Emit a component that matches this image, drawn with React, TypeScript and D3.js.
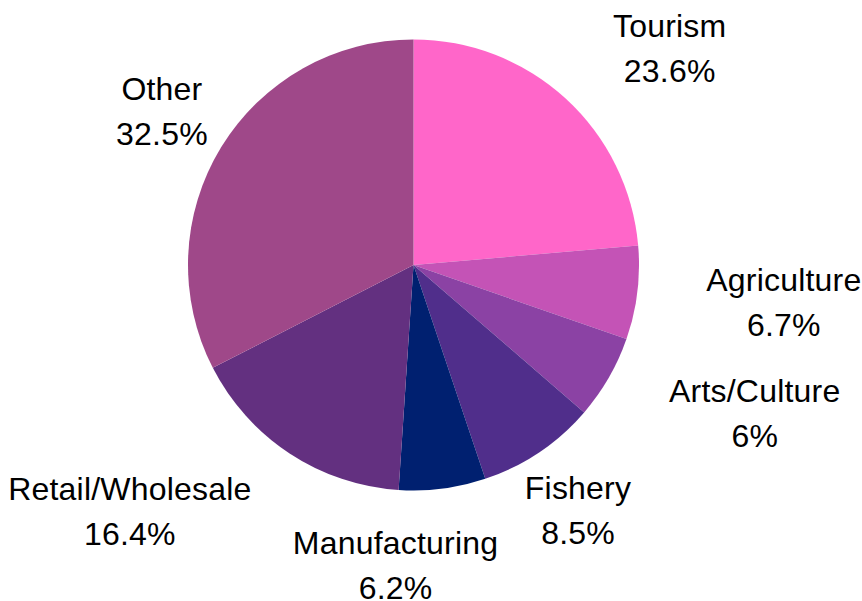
import React from "react";
import * as d3 from "d3";

const categories = ["Tourism", "Agriculture", "Arts/Culture", "Fishery", "Manufacturing", "Retail/Wholesale", "Other"];
const values = [23.6, 6.7, 6, 8.5, 6.2, 16.4, 32.5];
const valueLabels = ["23.6%", "6.7%", "6%", "8.5%", "6.2%", "16.4%", "32.5%"];
const colors = ["#ff66c9", "#c453b6", "#8b42a4", "#502e8b", "#002070", "#633080", "#9f4889"];
const labelAnchors = ["start", "start", "start", "middle", "middle", "end", "middle"];
const labelNudgeX = [0, 0, 0, 0, -56, 0, 0];
const labelNudgeY = [0, 0, 0, 0, 7, 0, 0];

const W = 862;
const H = 601;
const CX = 413.5;
const CY = 265;
const R = 225.5;
const LABEL_R = 295;
const FONT_SIZE = 32;
const LETTER_SP = 0.2;
const FONT = "'Liberation Sans', Arial, sans-serif";

function measure(s: string): number {
  const c = document.createElement("canvas");
  const ctx = c.getContext("2d");
  if (!ctx) return s.length * FONT_SIZE * 0.55;
  ctx.font = `${FONT_SIZE}px ${FONT}`;
  return ctx.measureText(s).width + LETTER_SP * s.length;
}

export default function App() {
  const data = categories.map((c, i) => ({ c, v: values[i], i }));
  const pie = d3.pie<any>().value((d) => d.v).sort(null);
  const arcs = pie(data);
  const arc = d3.arc<any>().innerRadius(0).outerRadius(R);
  const labelArc = d3.arc<any>().innerRadius(LABEL_R).outerRadius(LABEL_R);

  return (
    <div style={{ position: "fixed", left: 0, top: 0 }}>
      <svg width={W} height={H} style={{ display: "block", background: "#fff" }}>
        <g transform={`translate(${CX},${CY})`}>
          {arcs.map((a, i) => (
            <path key={i} d={arc(a) as string} fill={colors[i]} />
          ))}
          {arcs.map((a, i) => {
            const [lx, ly] = labelArc.centroid(a);
            const w = Math.max(measure(categories[i]), measure(valueLabels[i]));
            let x = lx + labelNudgeX[i];
            if (labelAnchors[i] === "start") x += w / 2;
            if (labelAnchors[i] === "end") x -= w / 2;
            const y = ly + labelNudgeY[i];
            return (
              <text
                key={"t" + i}
                textAnchor="middle"
                fontFamily={FONT}
                fontSize={FONT_SIZE}
                letterSpacing={LETTER_SP}
                fill="#000"
              >
                <tspan x={x + LETTER_SP / 2} y={y - 11}>{categories[i]}</tspan>
                <tspan x={x + LETTER_SP / 2} y={y + 34}>{valueLabels[i]}</tspan>
              </text>
            );
          })}
        </g>
      </svg>
    </div>
  );
}
